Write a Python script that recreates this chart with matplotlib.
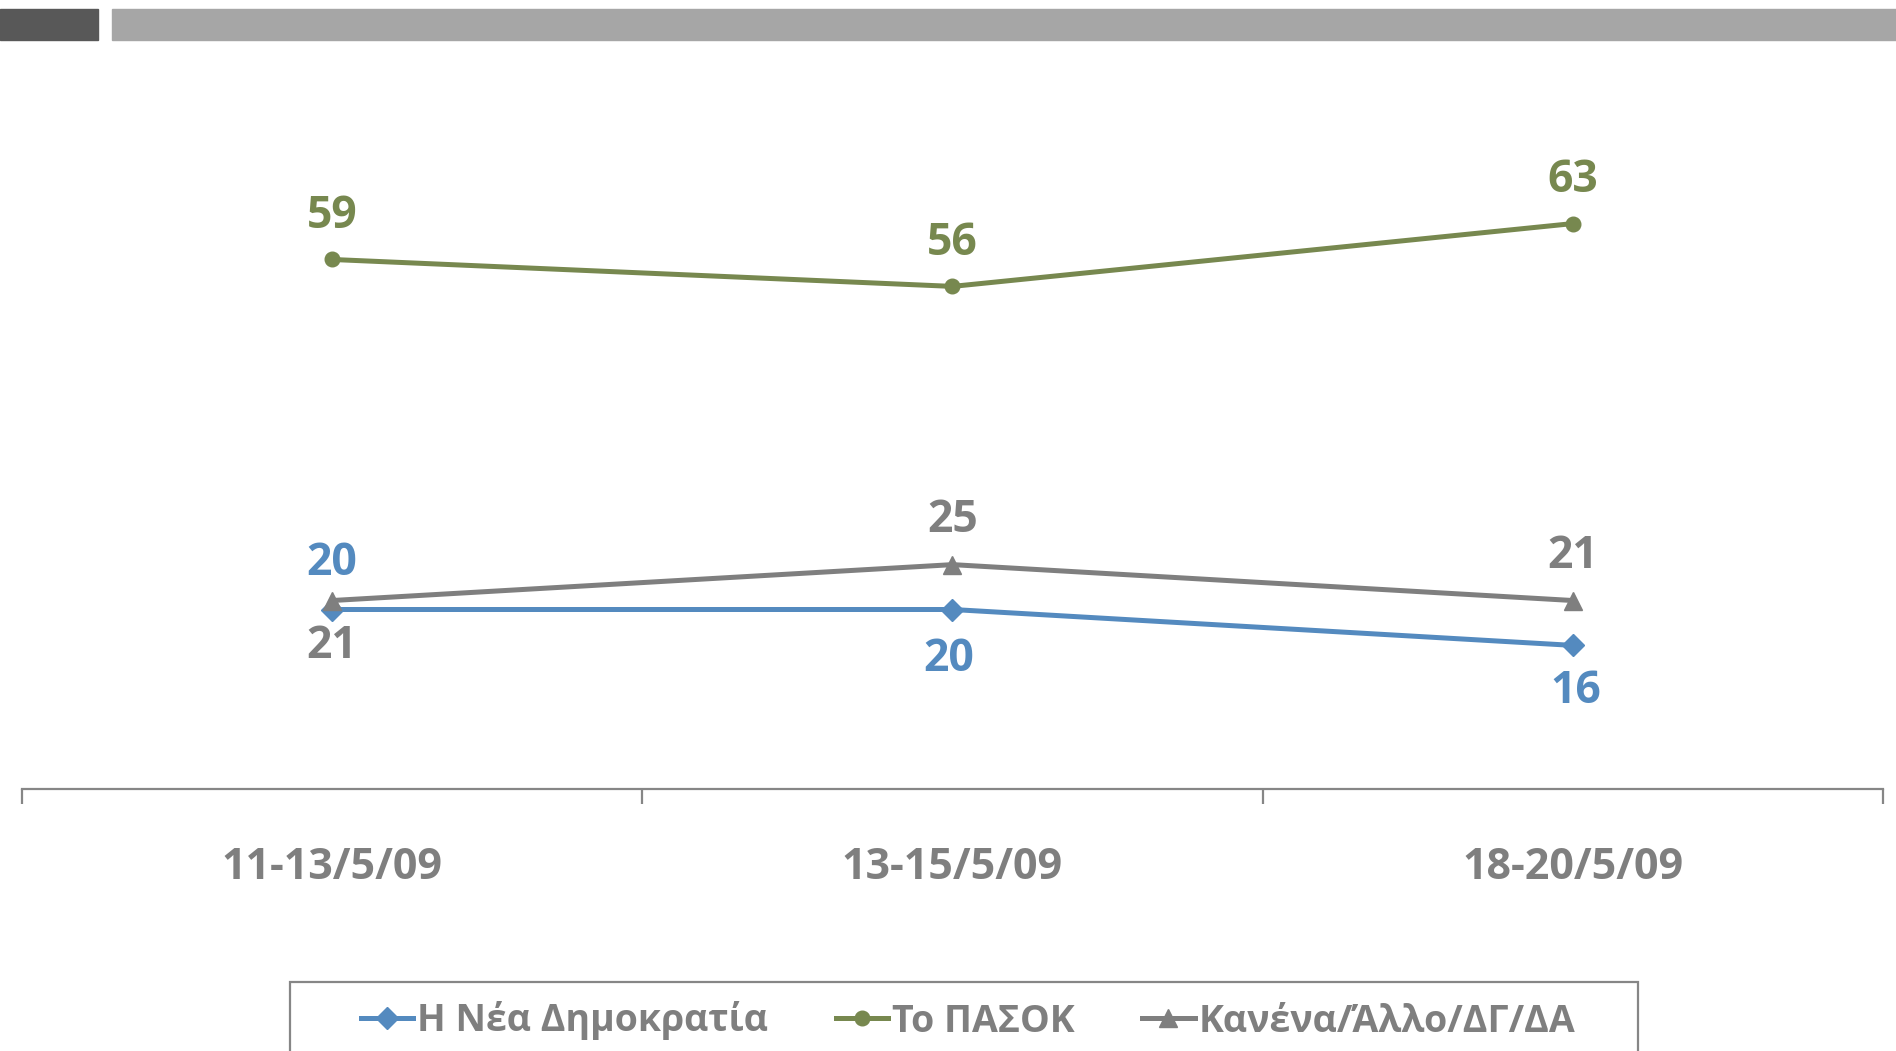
import matplotlib
matplotlib.use("Agg")
import matplotlib.pyplot as plt
from matplotlib.patches import Rectangle
from matplotlib.lines import Line2D

# data
periods = ["11-13/5/09", "13-15/5/09", "18-20/5/09"]
nd = [20, 20, 16]
pasok = [59, 56, 63]
other = [21, 25, 21]
names = ["Η Νέα Δημοκρατία", "Το ΠΑΣΟΚ", "Κανένα/Άλλο/ΔΓ/ΔΑ"]

c_nd = "#548abf"
c_pasok = "#77884f"
c_other = "#7f7f7f"
c_axis = "#868686"
fam = ["Open Sans", "DejaVu Sans"]

W, H = 1896, 1051
fig = plt.figure(figsize=(W / 100, H / 100), dpi=100)

# header bars
fig.patches.append(Rectangle((0, 1 - 40 / H), 98 / W, 31 / H, transform=fig.transFigure,
                             color="#585858", zorder=0))
fig.patches.append(Rectangle((112 / W, 1 - 40 / H), 1 - 112 / W, 31 / H, transform=fig.transFigure,
                             color="#a6a6a6", zorder=0))

ax = fig.add_axes([22 / W, (H - 789) / H, (1883 - 22) / W, 718 / H])
x = list(range(len(periods)))

ax.plot(x, nd, color=c_nd, lw=3.6, marker="D", ms=11, zorder=3)
ax.plot(x, pasok, color=c_pasok, lw=3.6, marker="o", ms=10.5, zorder=3)
ax.plot(x, other, color=c_other, lw=3.6, marker="^", ms=13, zorder=3)

ax.set_xlim(-0.5, 2.5)
ax.set_ylim(0, 80)
for s in ["top", "left", "right"]:
    ax.spines[s].set_visible(False)
ax.spines["bottom"].set_color(c_axis)
ax.spines["bottom"].set_linewidth(1.6)
ax.set_yticks([])

ax.set_xticks(x)
ax.set_xticklabels(periods, fontsize=31, fontweight="bold", color=c_other, family=fam)
ax.tick_params(axis="x", which="major", length=0, pad=41)
ax.set_xticks([-0.5, 0.5, 1.5, 2.5], minor=True)
ax.tick_params(axis="x", which="minor", length=11, width=1.6, color=c_axis, direction="out")

def label(xi, yi, txt, color, dy, dx=0):
    ax.annotate(txt, (xi, yi), xytext=(dx, dy), textcoords="offset points",
                ha="center", va="center", fontsize=32, fontweight="bold",
                color=color, family=fam)

for i, v in enumerate(pasok):
    label(i, v, str(v), c_pasok, 31)
label(0, nd[0], str(nd[0]), c_nd, 33)
label(1, nd[1], str(nd[1]), c_nd, -36, -3)
label(2, nd[2], str(nd[2]), c_nd, -33, 2)
label(0, other[0], str(other[0]), c_other, -33)
label(1, other[1], str(other[1]), c_other, 32)
label(2, other[2], str(other[2]), c_other, 32)

# legend
handles = [Line2D([], [], color=c_nd, lw=3.6, marker="D", ms=11),
           Line2D([], [], color=c_pasok, lw=3.6, marker="o", ms=10.5),
           Line2D([], [], color=c_other, lw=3.6, marker="^", ms=13)]
leg = fig.legend(handles, names, loc="center", bbox_to_anchor=(968 / W, 1 - 1021 / H),
                 ncol=3, frameon=False, handlelength=1.4, handletextpad=0.1,
                 columnspacing=1.8, prop={"family": fam, "weight": "bold", "size": 27})
for t in leg.get_texts():
    t.set_color(c_other)

fig.patches.append(Rectangle((290 / W, -0.05), (1638 - 290) / W, 0.05 + 1 - 982 / H,
                             transform=fig.transFigure, fill=False, edgecolor=c_axis, lw=1.6))

fig.savefig("out.png", dpi=100)
